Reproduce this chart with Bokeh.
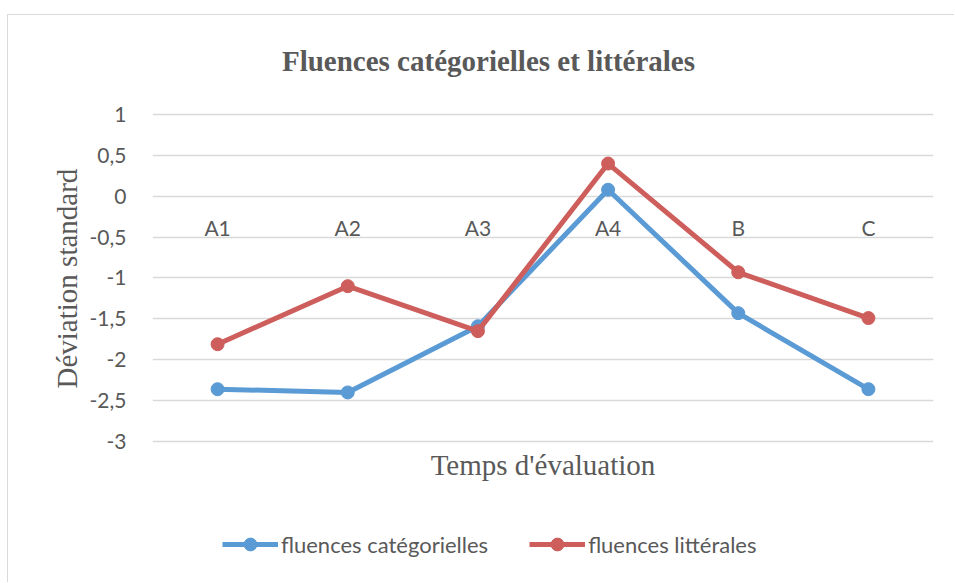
from bokeh.plotting import figure
from bokeh.models import FactorRange, Range1d, FixedTicker, Legend, LegendItem, ColumnDataSource, Title, Label
from bokeh.core.properties import value
from bokeh.embed import file_html
from bokeh.resources import INLINE

categories = ["A1", "A2", "A3", "A4", "B", "C"]
fluences_categorielles = [-2.36, -2.40, -1.59, 0.08, -1.43, -2.36]
fluences_litterales = [-1.81, -1.10, -1.65, 0.40, -0.93, -1.49]
y_ticks = [-3, -2.5, -2, -1.5, -1, -0.5, 0, 0.5, 1]
y_tick_labels = ["-3", "-2,5", "-2", "-1,5", "-1", "-0,5", "0", "0,5", "1"]

BLUE = "#5B9BD5"
RED = "#CD5E5B"
GREY = "#595959"
SANS = "Lato"
SERIF = "Liberation Serif"

# the frame spans from the title down to the legend, so nothing is clipped;
# only the -3..1 part carries ticks and grid lines
p = figure(width=947, height=568, x_range=FactorRange(*categories), y_range=Range1d(-4.639, 2.113),
           output_backend="svg", toolbar_location=None,
           min_border_left=144, min_border_right=22, min_border_top=8, min_border_bottom=8)
p.styles = {"margin-left": "7px", "margin-top": "14px",
            "border-left": "1px solid #D9D9D9", "border-top": "1px solid #D9D9D9"}
p.outline_line_color = None
p.background_fill_color = "white"
p.border_fill_color = "white"

title = Label(x=2.581, y=1.66, text="Fluences catégorielles et littérales", text_font=SERIF,
              text_font_style="bold", text_font_size="29px", text_color=GREY,
              text_align="center", text_baseline="middle")
p.add_layout(title)

# y axis
p.yaxis.ticker = FixedTicker(ticks=y_ticks)
p.yaxis.major_label_overrides = {float(t): l for t, l in zip(y_ticks, y_tick_labels)}
p.yaxis.axis_line_color = None
p.yaxis.major_tick_line_color = None
p.yaxis.minor_tick_line_color = None
p.yaxis.major_label_standoff = 20
p.yaxis.major_label_text_font = SANS
p.yaxis.major_label_text_font_size = "21px"
p.yaxis.major_label_text_color = GREY

ytitle = Title(text="Déviation standard", text_font=SERIF, text_font_style="normal",
               text_font_size="29px", text_color=GREY, align="left", offset=187, standoff=8)
p.add_layout(ytitle, "left")

p.xaxis.visible = False
p.xgrid.grid_line_color = None
p.ygrid.grid_line_color = "#D9D9D9"
p.ygrid.grid_line_width = 1.5

xtitle = Label(x=3.0, y=-3.29, text="Temps d'évaluation", text_font=SERIF,
               text_font_size="29px", text_color=GREY, text_align="center", text_baseline="middle")
p.add_layout(xtitle)

# category labels sitting under the zero line
p.text(x=categories, y=[0] * len(categories), text=categories,
       text_font=value(SANS), text_font_size="21px", text_color=GREY,
       text_align="center", text_baseline="middle", y_offset=31)

src_b = ColumnDataSource(dict(x=categories, y=fluences_categorielles))
src_r = ColumnDataSource(dict(x=categories, y=fluences_litterales))
lb = p.line("x", "y", source=src_b, line_color=BLUE, line_width=5)
sb = p.scatter("x", "y", source=src_b, size=13, fill_color=BLUE, line_color=BLUE)
lr = p.line("x", "y", source=src_r, line_color=RED, line_width=5)
sr = p.scatter("x", "y", source=src_r, size=13, fill_color=RED, line_color=RED)

legend = Legend(items=[LegendItem(label="fluences catégorielles", renderers=[lb, sb]),
                       LegendItem(label="fluences littérales", renderers=[lr, sr])],
                orientation="horizontal", location=(70, 15),
                border_line_color=None, background_fill_alpha=0,
                label_text_font=SANS, label_text_font_size="22px", label_text_color=GREY,
                glyph_width=56, glyph_height=32, label_standoff=3, spacing=41,
                padding=0, margin=0)
p.add_layout(legend, "center")

open("out.html", "w").write(file_html(p, INLINE))
